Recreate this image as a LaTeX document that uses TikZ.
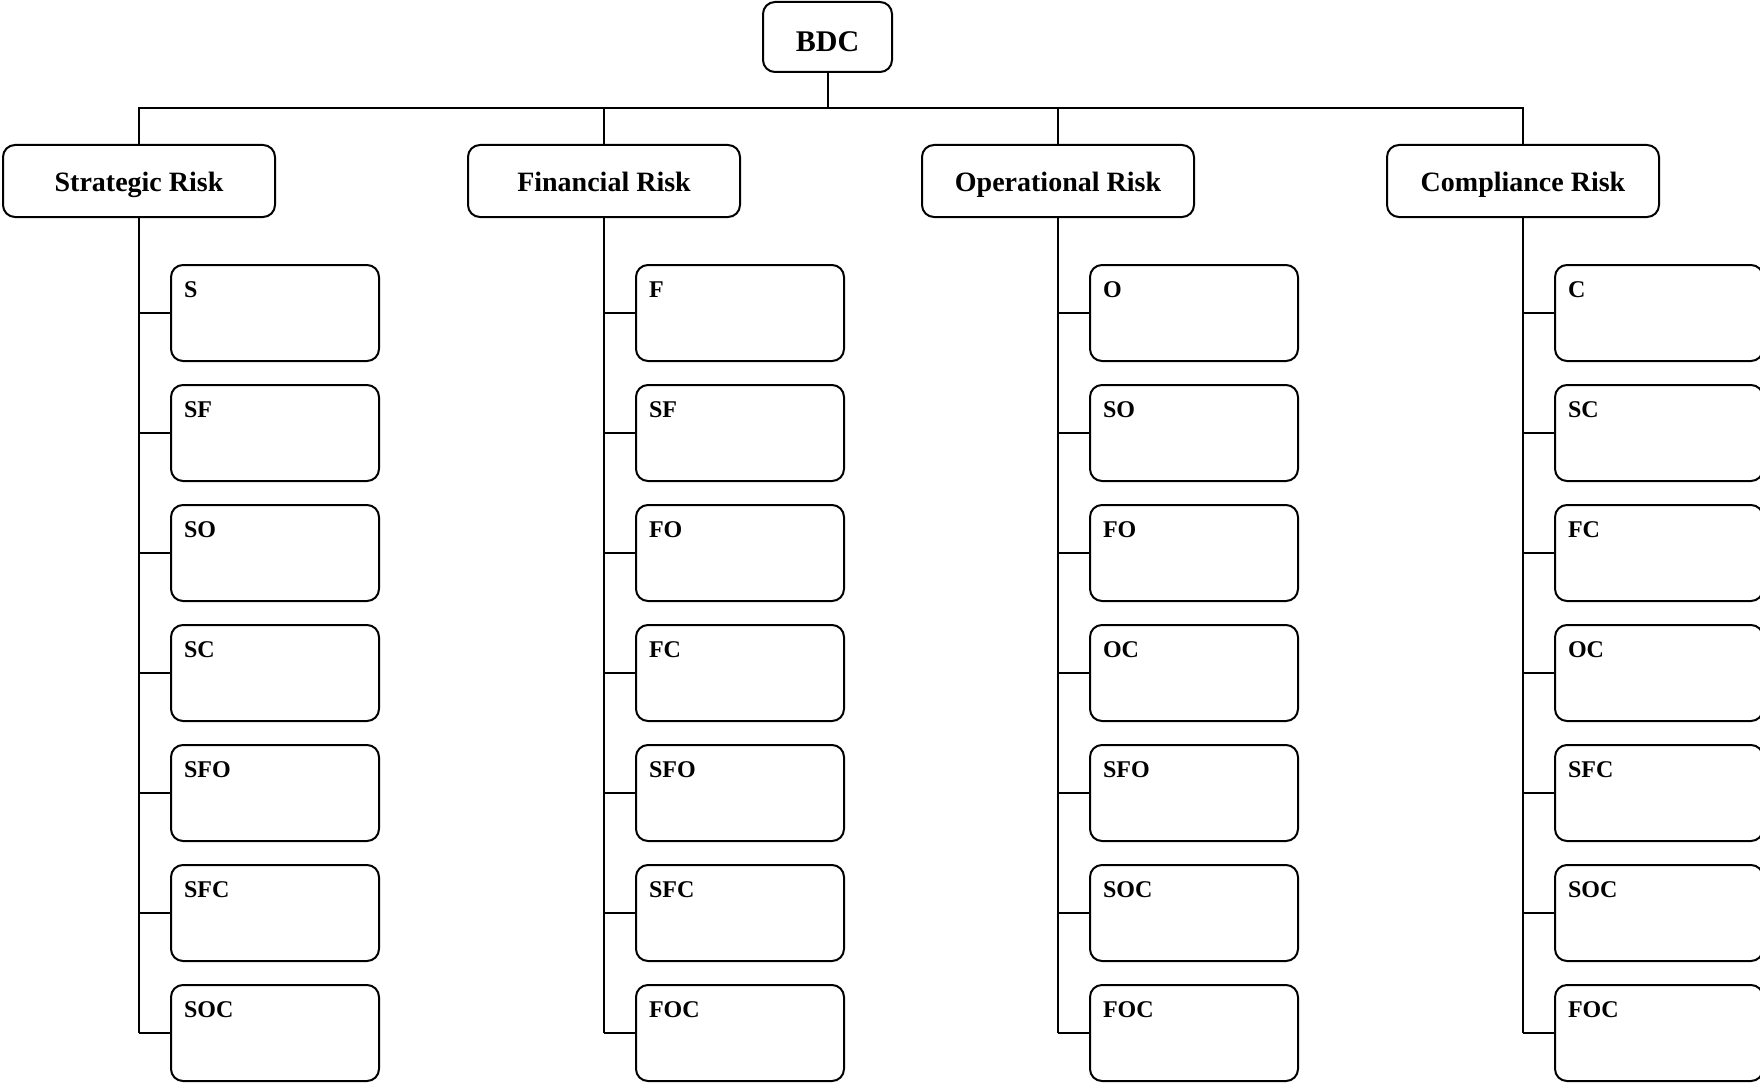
\documentclass[tikz,border=0pt]{standalone}
\usepackage{fontspec}
\setmainfont{Liberation Serif}

\tikzset{
  rootbox/.style={draw, rounded corners=12pt, minimum width=129pt, inner xsep=0pt, inner ysep=0pt, text height=50pt, text depth=20pt, font=\fontsize{30}{36}\selectfont\bfseries},
  riskbox/.style={draw, rounded corners=12pt, minimum width=272pt, inner xsep=0pt, inner ysep=0pt, text height=46pt, text depth=26pt, font=\fontsize{28}{34}\selectfont\bfseries},
  leafbox/.style={draw, rounded corners=12pt, text width=182pt, align=left, inner xsep=13pt, inner ysep=0pt, text height=32pt, text depth=64pt, font=\fontsize{24}{29}\selectfont\bfseries}
}

\begin{document}
\begin{tikzpicture}[x=1pt,y=-1pt,line width=2pt]
\useasboundingbox (0,0) rectangle (1760,1086);
\node[rootbox] (bdc) at (827.5,37) {BDC};
\coordinate (bus) at (827.5,108);
\draw (bdc.south) -- (bus);
\foreach \n/\x/\title/\items in {
  s/139/Strategic Risk/{S,SF,SO,SC,SFO,SFC,SOC},
  f/604/Financial Risk/{F,SF,FO,FC,SFO,SFC,FOC},
  o/1058/Operational Risk/{O,SO,FO,OC,SFO,SOC,FOC},
  c/1523/Compliance Risk/{C,SC,FC,OC,SFC,SOC,FOC}}{
  \node[riskbox] (\n) at (\x,181) {\title};
  \draw (\n.north) |- (bus);
  \foreach \k [count=\i from 0] in \items {
    \node[leafbox, anchor=west] (\n-\i) at (\x+31,313+120*\i) {\k};
    \draw (\n.south |- \n-\i.west) -- (\n-\i.west);
  }
  \draw (\n.south) -- (\n.south |- \n-6.west);
}
\end{tikzpicture}
\end{document}
